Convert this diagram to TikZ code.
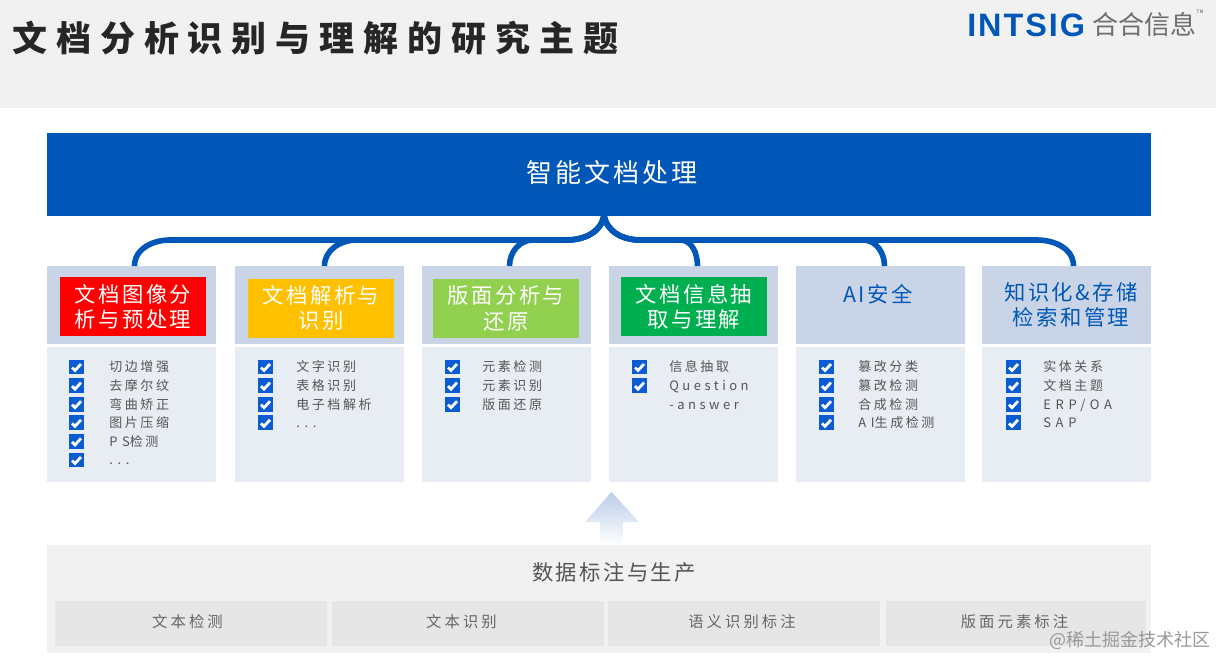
\documentclass[tikz,border=0pt]{standalone}
\usepackage{xcolor}
\usepackage{fontspec}
\setmainfont{Noto Sans CJK SC}
\newfontfamily\titlefont[LetterSpace=25.5]{Noto Sans CJK SC}
\newfontfamily\itemfont[LetterSpace=20]{Noto Sans CJK SC}
\newfontfamily\lowfont[LetterSpace=27]{Noto Sans CJK SC}
\newfontfamily\capfont[LetterSpace=36]{Noto Sans CJK SC}
\newfontfamily\headfont[LetterSpace=11]{Noto Sans CJK SC}
\newfontfamily\logofont[LetterSpace=6]{Liberation Sans}
\usetikzlibrary{positioning,calc}
\newcommand{\igdots}{{\capfont...}}
\newcommand{\igcaps}[1]{{\capfont #1}}
\newcommand{\iglow}[1]{{\lowfont #1}}
\definecolor{igBlue}   {RGB}{  0, 87,184}
\definecolor{igTick}   {RGB}{ 11, 91,211}
\definecolor{igHead}   {RGB}{201,213,230}
\definecolor{igList}   {RGB}{232,237,243}
\definecolor{igBand}   {RGB}{241,241,241}
\definecolor{igCell}   {RGB}{230,230,230}
\definecolor{igText}   {RGB}{ 85, 85, 85}
\definecolor{igArrow}  {RGB}{186,204,232}
\definecolor{igRed}    {RGB}{255,  0,  0}
\definecolor{igAmber}  {RGB}{255,192,  0}
\definecolor{igLime}   {RGB}{146,208, 80}
\definecolor{igGreen}  {RGB}{  0,176, 80}

\begin{document}
\begin{tikzpicture}[
  x=0.75pt,y=-0.75pt,
  panel/.style={inner sep=0pt,outer sep=0pt,anchor=north west},
  head/.style={panel,fill=igHead,minimum width=126.75pt,minimum height=58.5pt},
  list/.style={panel,fill=igList,minimum width=126.75pt,minimum height=101.25pt},
  tag/.style={inner sep=0pt,outer sep=0pt,minimum width=109.5pt,minimum height=44.25pt,align=center,
              text=white,font=\fontsize{16}{19pt}\selectfont\headfont},
  plain/.style={tag,minimum width=115pt,text=igBlue},
  item/.style={anchor=west,inner sep=0pt,text=igText,text height=8.6pt,text depth=1.2pt,
               font=\fontsize{9.75}{12pt}\selectfont\itemfont},
  tick/.style={fill=igTick,inner sep=0pt,minimum size=11.2pt,
    path picture={\draw[white,line width=2.1pt]
      ([shift={(-4.5,0.5)}]path picture bounding box.center) -- ++(3,3) -- ++(6,-6.5);}},
  bus/.style={igBlue,line width=4.2pt},
  cell/.style={panel,fill=igCell,minimum height=33.75pt},
  celltext/.style={inner sep=0pt,text=igText!90,font=\fontsize{11.5}{14pt}\selectfont\itemfont}
]
\useasboundingbox (0,0) rectangle (1216,656);
\fill[igBand] (0,0) rectangle (1216,108);
\node[anchor=west,inner sep=0pt,text=black!85,font=\fontsize{26.25}{30pt}\selectfont\titlefont\bfseries]
   (title) at (12,38) {文档分析识别与理解的研究主题};
\node[anchor=west,inner sep=0pt,text=igBlue,font=\fontsize{24.3}{26pt}\selectfont\logofont\bfseries]
   (logo) at (967,25) {INTSIG};
\node[anchor=west,inner sep=0pt,text=igText!85,font=\fontsize{19.5}{22pt}\selectfont]
   (logocn) at (1092,25) {合合信息};
\node[inner sep=0pt,text=igText,font=\fontsize{3.5}{5pt}\selectfont] (tm) at (1200,12) {TM};

\node[panel,fill=igBlue,minimum width=828pt,minimum height=62.25pt,text=white] (top) at (47,133) {};
\node[inner sep=0pt,text=white,font=\fontsize{19.5}{22pt}\selectfont\headfont] (toptext) at (612,173) {智能文档处理};
\coordinate (hub) at (604,214);

% columns
\foreach \i/\xa/\xb/\xc in {1/47/69/109,2/235/258/296,3/422/445/482,4/609/632/669,5/796/819/858,6/982/1006/1043}{
  \node[head] (head\i) at (\xa,266) {};
  \node[list] (list\i) at (\xa,347) {};
  \coordinate (boxcol\i) at (\xb,0);
  \coordinate (textcol\i) at (\xc,0);
}

% bus lines
\foreach \i/\s/\b in {1/3/170,2/5/357,3/3/533}
  \draw[bus] (hub) to[out=265,in=0] (567,240) -- (\b,240) to[out=180,in=90] ([xshift=\s*0.75pt]head\i.north);
\foreach \i/\s/\b in {4/4/680,5/4/863,6/7/1037}
  \draw[bus] (hub) to[out=275,in=180] (640,240) -- (\b,240) to[out=0,in=90] ([xshift=\s*0.75pt]head\i.north);

\node[tag,fill=igRed]   (tag1) at (133,306.5) {文档图像分\\析与预处理};
\node[tag,fill=igAmber] (tag2) at (321,308)   {文档解析与\\识别};
\node[tag,fill=igLime]  (tag3) at (506,308.5) {版面分析与\\还原};
\node[tag,fill=igGreen] (tag4) at (694,306.5) {文档信息抽\\取与理解};
\node[plain] (tag5) at (878,294) {AI安全};
\node[plain] (tag6) at (1071,305) {知识化\&存储\\检索和管理};

% check lists
\foreach \i/\items in {1/{切边增强,去摩尔纹,弯曲矫正,图片压缩,\igcaps{PS}检测,\igdots},
                       2/{文字识别,表格识别,电子档解析,\igdots},
                       3/{元素检测,元素识别,版面还原},
                       4/{信息抽取,\iglow{Question}},
                       5/{篡改分类,篡改检测,合成检测,\igcaps{AI}生成检测},
                       6/{实体关系,文档主题,\igcaps{ERP/OA},\igcaps{SAP}}}{
  \foreach \txt [count=\n from 0] in \items {
    \node[tick] (tick\i-\n) at ($(boxcol\i)+(7.5,367+18.6*\n)$) {};
    \node[item] (item\i-\n) at ($(textcol\i)+(0,367+18.6*\n)$) {\txt};
  }
}
\node[item] (item4-2) at ($(textcol4)+(0,404.2)$) {\iglow{-answer}};

% arrow
\shade[top color=igArrow,bottom color=white]
  (611.5,492) -- (639,522) -- (623,522) -- (623,545) -- (600,545) -- (600,522) -- (585,522) -- cycle;

% data band
\node[panel,fill=igBand,minimum width=828pt,minimum height=81pt] (band) at (47,545) {};
\node[inner sep=0pt,text=igText,font=\fontsize{16}{18pt}\selectfont\headfont] (bandtext) at (614,572) {数据标注与生产};
\node[cell,minimum width=204pt] (cell1) at (55,601)  {};
\node[cell,minimum width=204pt] (cell2) at (332,601) {};
\node[cell,minimum width=204pt] (cell3) at (608,601) {};
\node[cell,minimum width=195pt] (cell4) at (886,601) {};
\node[celltext] (celltext1) at (187.5,622) {文本检测};
\node[celltext] (celltext2) at (461.5,622) {文本识别};
\node[celltext] (celltext3) at (742,622)   {语义识别标注};
\node[celltext] (celltext4) at (1014.5,622) {版面元素标注};
\node[anchor=east,inner sep=0pt,text=black!40,font=\fontsize{13.5}{16pt}\selectfont] (mark) at (1211,640.5) {@稀土掘金技术社区};
\end{tikzpicture}
\end{document}
